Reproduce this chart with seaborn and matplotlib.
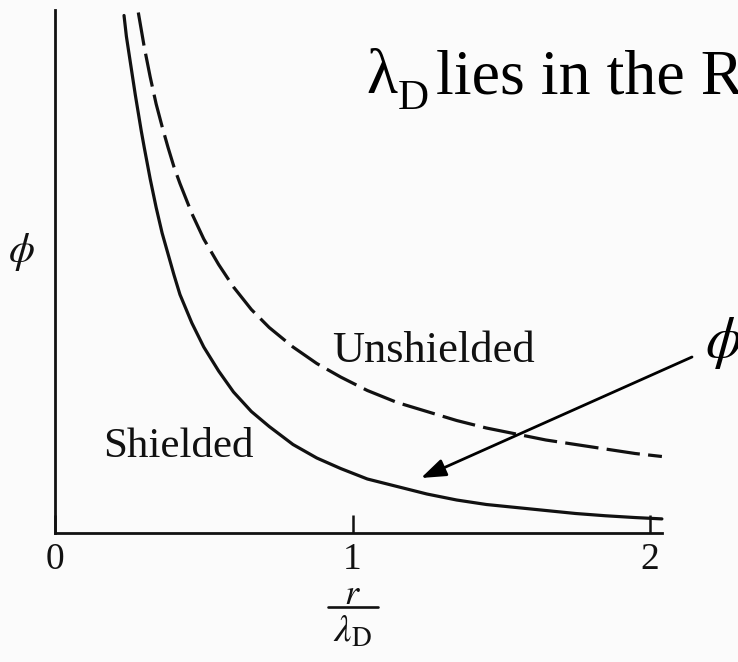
import matplotlib
matplotlib.use("Agg")
import matplotlib.pyplot as plt
import seaborn as sns
import pandas as pd
from matplotlib.lines import Line2D

# Normalised distance r / lambda_D and potential phi (arbitrary units)
r_unshielded = [0.28, 0.30, 0.32, 0.34, 0.36, 0.38, 0.40, 0.42, 0.46, 0.50, 0.55,
                0.60, 0.66, 0.72, 0.80, 0.88, 0.96, 1.05, 1.15, 1.25, 1.35, 1.45,
                1.55, 1.65, 1.75, 1.85, 1.95, 2.04]
phi_unshielded = [3.47, 3.24, 3.04, 2.86, 2.71, 2.57, 2.44, 2.33, 2.13, 1.96, 1.79,
                  1.64, 1.49, 1.37, 1.24, 1.13, 1.04, 0.95, 0.87, 0.81, 0.75, 0.70,
                  0.66, 0.62, 0.59, 0.56, 0.53, 0.51]

r_shielded = [0.232, 0.24, 0.25, 0.26, 0.27, 0.28, 0.29, 0.30, 0.32, 0.34, 0.36,
              0.38, 0.40, 0.42, 0.46, 0.50, 0.55, 0.60, 0.66, 0.72, 0.80, 0.88,
              0.96, 1.05, 1.15, 1.25, 1.35, 1.45, 1.55, 1.65, 1.75, 1.85, 1.95, 2.04]
phi_shielded = [3.45, 3.31, 3.18, 3.05, 2.92, 2.80, 2.68, 2.57, 2.36, 2.17, 2.00,
                1.86, 1.72, 1.59, 1.40, 1.24, 1.08, 0.94, 0.81, 0.71, 0.59, 0.50,
                0.43, 0.36, 0.31, 0.26, 0.22, 0.19, 0.17, 0.15, 0.13, 0.115, 0.103,
                0.094]

x_ticks = [0, 1, 2]
x_tick_labels = ["0", "1", "2"]

W, H = 738, 662
sns.set_theme(style="white")
plt.rcParams["font.family"] = ["Liberation Serif", "DejaVu Serif"]
plt.rcParams["mathtext.fontset"] = "stix"

bg = "#fbfbfb"
fig = plt.figure(figsize=(W / 100, H / 100), dpi=100, facecolor=bg)
ax = fig.add_axes([0, 0, 1, 1], facecolor=bg)

# pixel layout: r=0 at x=55, 297.5 px per unit; phi=0 at y=533, 150 px per unit
ax.set_xlim(-55 / 297.5, (W - 55) / 297.5)
ax.set_ylim((533 - H) / 150, 533 / 150)

df_u = pd.DataFrame({"r": r_unshielded, "phi": phi_unshielded})
df_s = pd.DataFrame({"r": r_shielded, "phi": phi_shielded})
sns.lineplot(data=df_s, x="r", y="phi", ax=ax, color="#111111", lw=2.3,
             sort=False, estimator=None)
sns.lineplot(data=df_u, x="r", y="phi", ax=ax, color="#111111", lw=2.3,
             sort=False, estimator=None, linestyle=(0, (10.5, 2.6)))

# axes as drawn in the textbook figure
for s in ("top", "right"):
    ax.spines[s].set_visible(False)
for s in ("left", "bottom"):
    ax.spines[s].set_position(("data", 0))
    ax.spines[s].set_linewidth(2.0)
    ax.spines[s].set_color("#111111")
ax.spines["left"].set_bounds(0, 3.487)
ax.spines["bottom"].set_bounds(0, 2.04)

ax.set_xticks(x_ticks)
ax.set_xticklabels(x_tick_labels, fontsize=27)
ax.set_yticks([])
ax.tick_params(axis="x", direction="in", length=13, width=1.8, color="#111111",
               pad=7, labelcolor="#111111", bottom=True)
ax.set_xlabel("")
ax.set_ylabel("")


def px(x, y):
    return x / W, 1 - y / H


# axis labels
fig.text(*px(21, 252), r"$\phi$", fontsize=30, ha="center", va="center",
         color="#111111")
fig.text(*px(352, 596), r"$r$", fontsize=26, ha="center", va="center",
         color="#111111")
fig.add_artist(Line2D([328 / W, 378 / W], [1 - 607 / H, 1 - 607 / H],
                      lw=1.9, color="#111111"))
fig.text(*px(353, 614), r"$\lambda_{\mathrm{D}}$", fontsize=28, ha="center",
         va="top", color="#111111")

# curve labels
fig.text(*px(332, 362), "Unshielded", fontsize=32, ha="left", va="baseline",
         color="#111111")
fig.text(*px(103, 457), "Shielded", fontsize=31, ha="left", va="baseline",
         color="#111111")

# overlay annotation
fig.text(*px(366, 93), "λ", fontsize=46, ha="left", va="baseline", color="black")
fig.text(*px(398, 109), "D", fontsize=31, ha="left", va="baseline", color="black")
fig.text(*px(436, 93), "lies in the R", fontsize=46, ha="left", va="baseline",
         color="black")
fig.text(*px(705, 343), r"$\phi$", fontsize=42, ha="left", va="center",
         color="black")

tip = ((421 - 55) / 297.5, (533 - 478) / 150)
tail = ((692 - 55) / 297.5, (533 - 357) / 150)
ax.annotate("", xy=tip, xytext=tail,
            arrowprops=dict(arrowstyle="-|>,head_length=0.5,head_width=0.18",
                            lw=2.0, color="black", mutation_scale=30,
                            shrinkA=0, shrinkB=0))

fig.savefig("out.png", dpi=100, facecolor=bg)
